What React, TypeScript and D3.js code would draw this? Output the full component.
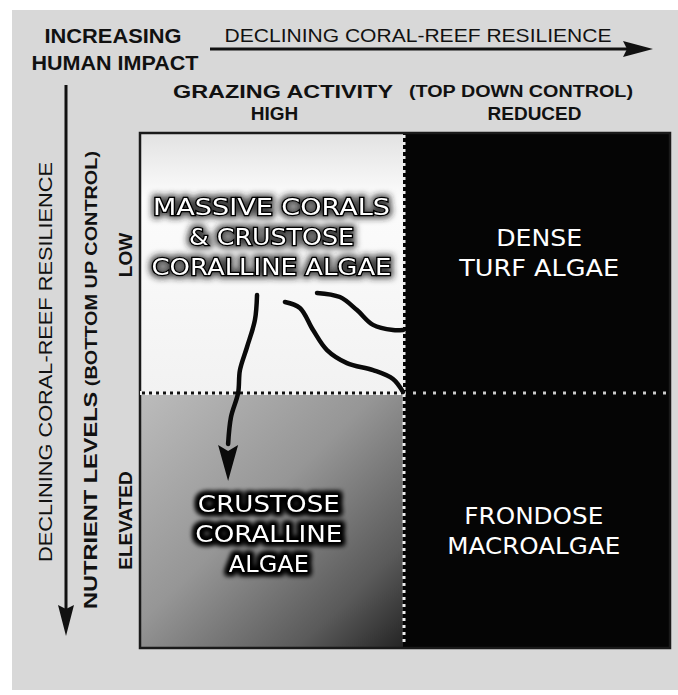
import React from "react";
import * as d3 from "d3";

// ---------- data ----------
const grazingLevels = ["HIGH", "REDUCED"]; // columns (top-down control)
const nutrientLevels = ["LOW", "ELEVATED"]; // rows (bottom-up control)
const topLeftTitle = ["INCREASING", "HUMAN IMPACT"];
const resilienceTitle = "DECLINING CORAL-REEF RESILIENCE";
const grazingTitle = "GRAZING ACTIVITY";
const grazingSub = "(TOP DOWN CONTROL)";
const nutrientTitle = "NUTRIENT LEVELS";
const nutrientSub = " (BOTTOM UP CONTROL)";

const quadrantLabels = [
  { col: 0, row: 0, lines: ["MASSIVE CORALS", "& CRUSTOSE", "CORALLINE ALGAE"] },
  { col: 1, row: 0, lines: ["DENSE", "TURF ALGAE"] },
  { col: 0, row: 1, lines: ["CRUSTOSE", "CORALLINE", "ALGAE"] },
  { col: 1, row: 1, lines: ["FRONDOSE", "MACROALGAE"] },
];

// phase-shift pathways in grid units (0..2 across, 0..2 down)
const pathwayToCrustose: [number, number][] = [
  [0.445, 0.623], [0.437, 0.719], [0.407, 0.823], [0.38, 0.912],
  [0.373, 1.0], [0.346, 1.094], [0.335, 1.2],
];
const pathwayToMacroalgae: [number, number][] = [
  [0.551, 0.65], [0.608, 0.673], [0.658, 0.758], [0.711, 0.835],
  [0.787, 0.885], [0.886, 0.912], [0.962, 0.946], [1.0, 0.996],
];
const pathwayToTurf: [number, number][] = [
  [0.673, 0.615], [0.76, 0.631], [0.825, 0.681], [0.886, 0.738],
  [0.962, 0.758], [1.0, 0.758],
];
const arrowTip: [number, number] = [0.335, 1.345];

// ---------- layout ----------
const W = 678;
const H = 695;
const x = d3.scaleLinear().domain([0, 1, 2]).range([140, 403, 670]);
const y = d3.scaleLinear().domain([0, 1, 2]).range([133, 393, 648]);

const labelAnchor: Record<string, [number, number, number[]]> = {
  "0-0": [0.5, 0.4, [237, 165, 240]],
  "1-0": [1.51, 0.46, [86, 160]],
  "0-1": [0.49, 1.55, [142, 147, 80]],
  "1-1": [1.49, 1.54, [139, 173]],
};

const line = d3
  .line<[number, number]>()
  .x((d) => x(d[0]))
  .y((d) => y(d[1]))
  .curve(d3.curveCatmullRom.alpha(0.5));

const SANS = "'Liberation Sans', Arial, sans-serif";
const COMIC = "'DejaVu Sans', sans-serif";

export default function App() {
  const tipX = x(arrowTip[0]);
  const tipY = y(arrowTip[1]);
  const headBase = y(1.204);
  return (
    <svg
      width={W}
      height={H}
      viewBox={`0 0 ${W} ${H}`}
      style={{ position: "absolute", left: 0, top: 0, background: "#fff" }}
    >
      <defs>
        <linearGradient id="tl" x1="0" y1="0" x2="0" y2="1">
          <stop offset="0" stopColor="#e2e2e2" />
          <stop offset="0.25" stopColor="#fcfcfc" />
          <stop offset="1" stopColor="#f2f2f2" />
        </linearGradient>
        <linearGradient id="bl" x1="0" y1="0" x2="1" y2="1">
          <stop offset="0" stopColor="#bcbcbc" />
          <stop offset="0.45" stopColor="#969696" />
          <stop offset="0.8" stopColor="#5a5a5a" />
          <stop offset="1" stopColor="#242424" />
        </linearGradient>
        <filter id="glowSoft" x="-20%" y="-60%" width="140%" height="220%">
          <feMorphology in="SourceAlpha" operator="dilate" radius="2" result="d" />
          <feGaussianBlur in="d" stdDeviation="3" result="b" />
          <feFlood floodColor="#222" floodOpacity="0.85" />
          <feComposite in2="b" operator="in" result="sh" />
          <feMerge>
            <feMergeNode in="sh" />
            <feMergeNode in="SourceGraphic" />
          </feMerge>
        </filter>
        <filter id="glow" x="-20%" y="-60%" width="140%" height="220%">
          <feMorphology in="SourceAlpha" operator="dilate" radius="2" result="d" />
          <feGaussianBlur in="d" stdDeviation="2.6" result="b" />
          <feFlood floodColor="#000" />
          <feComposite in2="b" operator="in" result="sh" />
          <feMerge>
            <feMergeNode in="sh" />
            <feMergeNode in="sh" />
            <feMergeNode in="SourceGraphic" />
          </feMerge>
        </filter>
      </defs>

      {/* page background */}
      <rect x={12} y={10} width={W - 12} height={680} fill="#d8d8d8" />

      {/* top-left title */}
      {topLeftTitle.map((t, i) => (
        <text
          key={t}
          x={i === 0 ? 113 : 115}
          y={i === 0 ? 36 : 63}
          dy="0.36em"
          textAnchor="middle"
          fontFamily={SANS}
          fontWeight="bold"
          fontSize={20}
          textLength={i === 0 ? 137 : 167}
          lengthAdjust="spacingAndGlyphs"
          fill="#111"
        >
          {t}
        </text>
      ))}

      {/* horizontal resilience arrow */}
      <text
        x={418}
        y={35}
        dy="0.36em"
        textAnchor="middle"
        fontFamily={SANS}
        fontSize={19}
        textLength={387}
        lengthAdjust="spacingAndGlyphs"
        fill="#111"
      >
        {resilienceTitle}
      </text>
      <line x1={210} y1={49} x2={628} y2={49} stroke="#111" strokeWidth={3} />
      <path d="M653,49 L623,41 L627,49 L623,57 Z" fill="#111" />

      {/* vertical resilience arrow */}
      <line x1={66} y1={85} x2={66} y2={610} stroke="#111" strokeWidth={3} />
      <path d="M66,636 L58,605 L66,609 L74,605 Z" fill="#111" />
      <text
        transform="translate(45,362) rotate(-90)"
        dy="0.36em"
        textAnchor="middle"
        fontFamily={SANS}
        fontSize={19}
        textLength={400}
        lengthAdjust="spacingAndGlyphs"
        fill="#111"
      >
        {resilienceTitle}
      </text>

      {/* grazing header */}
      <text x={283} y={91} dy="0.36em" textAnchor="middle" fontFamily={SANS} fontWeight="bold"
        fontSize={19} textLength={220} lengthAdjust="spacingAndGlyphs" fill="#111">
        {grazingTitle}
      </text>
      <text x={521} y={91} dy="0.36em" textAnchor="middle" fontFamily={SANS} fontWeight="bold"
        fontSize={16} textLength={224} lengthAdjust="spacingAndGlyphs" fill="#111">
        {grazingSub}
      </text>
      {grazingLevels.map((g, i) => (
        <text key={g} x={x(i + 0.5) + (i === 0 ? 3 : -2)} y={113} dy="0.36em" textAnchor="middle"
          fontFamily={SANS} fontWeight="bold" fontSize={19} fill="#111">
          {g}
        </text>
      ))}

      {/* nutrient header */}
      <text
        transform="translate(90,380) rotate(-90)"
        dy="0.36em"
        textAnchor="middle"
        fontFamily={SANS}
        fontWeight="bold"
        fontSize={19}
        textLength={458}
        lengthAdjust="spacingAndGlyphs"
        fill="#111"
      >
        {nutrientTitle}
        <tspan fontSize={16}>{nutrientSub}</tspan>
      </text>
      {nutrientLevels.map((n, i) => (
        <text key={n} transform={`translate(125,${y(i + 0.5) - (i === 0 ? 8 : 0)}) rotate(-90)`} dy="0.36em"
          textAnchor="middle" fontFamily={SANS} fontWeight="bold" fontSize={19} fill="#111">
          {n}
        </text>
      ))}

      {/* quadrants */}
      <rect x={x(0)} y={y(0)} width={x(1) - x(0)} height={y(1) - y(0)} fill="url(#tl)" />
      <rect x={x(0)} y={y(1)} width={x(1) - x(0)} height={y(2) - y(1)} fill="url(#bl)" />
      <rect x={x(1)} y={y(0)} width={x(2) - x(1)} height={y(2) - y(0)} fill="#050505" />
      <rect x={x(0)} y={y(0)} width={x(2) - x(0)} height={y(2) - y(0)} fill="none" stroke="#1a1a1a" strokeWidth={2.5} />

      {/* dividers */}
      <line x1={x(0)} y1={y(1)} x2={x(1)} y2={y(1)} stroke="#f4f4f4" strokeWidth={4} />
      <line x1={x(0) + 2} y1={y(1)} x2={x(1)} y2={y(1)} stroke="#111" strokeWidth={3} strokeDasharray="3 4" />
      <line x1={x(1)} y1={y(1)} x2={x(2)} y2={y(1)} stroke="#ccc" strokeWidth={3} strokeDasharray="3 7" />
      <line x1={x(1) + 1} y1={y(0) + 2} x2={x(1) + 1} y2={y(2) - 2} stroke="#eee" strokeWidth={3} strokeDasharray="3 4" />

      {/* pathways */}
      {[pathwayToCrustose, pathwayToMacroalgae, pathwayToTurf].map((p, i) => (
        <path key={i} d={line(p) || ""} fill="none" stroke="#0a0a0a" strokeWidth={4.5} strokeLinecap="round" />
      ))}
      <path
        d={`M${tipX},${tipY} L${tipX - 10},${headBase} L${tipX},${headBase + 6} L${tipX + 10},${headBase} Z`}
        fill="#0a0a0a"
      />

      {/* quadrant labels */}
      {quadrantLabels.map((q) => {
        const [cx, cy, widths] = labelAnchor[`${q.col}-${q.row}`];
        const glow = q.col === 0;
        const n = q.lines.length;
        return (
          <g key={q.lines.join()} filter={glow ? (q.row === 0 ? "url(#glowSoft)" : "url(#glow)") : undefined}>
            {q.lines.map((l, i) => (
              <text
                key={l}
                x={x(cx)}
                y={y(cy) + (i - (n - 1) / 2) * 30}
                dy="0.36em"
                textAnchor="middle"
                fontFamily={COMIC}
                fontSize={23}
                textLength={widths[i]}
                lengthAdjust="spacingAndGlyphs"
                fill="#fff"
                stroke={glow ? "#000" : "none"}
                strokeWidth={glow ? 2.5 : 0}
                paintOrder="stroke"
              >
                {l}
              </text>
            ))}
          </g>
        );
      })}
    </svg>
  );
}
